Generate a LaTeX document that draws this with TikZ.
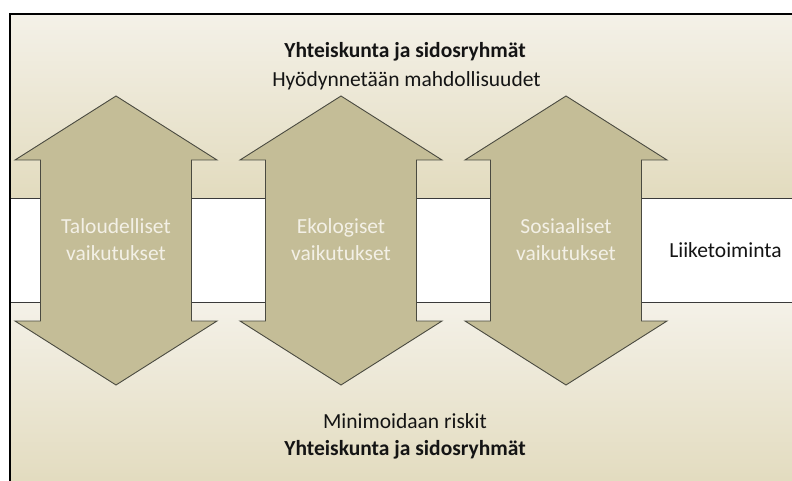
\documentclass[tikz,border=0pt]{standalone}
\usepackage{fontspec}
\setmainfont{Carlito}
\begin{document}
\begin{tikzpicture}[x=1pt,y=1pt,
  panel/.style={top color=panelTop,bottom color=panelBottom,draw=none},
  impact/.style={fill=arrowFill,draw=arrowEdge,line width=0.9pt,line join=miter},
  impactlabel/.style={text=labelText,font=\fontsize{21.5}{27.4}\selectfont,align=center,anchor=base},
  heading/.style={text=headText,font=\fontsize{21.5}{27}\selectfont\bfseries,anchor=base},
  subheading/.style={text=headText,font=\fontsize{21.5}{27}\selectfont,anchor=base}]
\definecolor{panelTop}{HTML}{F4F1E8}
\definecolor{panelBottom}{HTML}{E2DBBE}
\definecolor{arrowFill}{HTML}{C4BD97}
\definecolor{arrowEdge}{HTML}{4A4A40}
\definecolor{labelText}{HTML}{F3F0E6}
\definecolor{headText}{HTML}{141414}
\definecolor{bandEdge}{HTML}{3A3A3A}
\useasboundingbox (0,0) rectangle (792,480);
\begin{scope}
\clip (0,0) rectangle (792,480);
% background panels: society above and below, business band in between
\shade[panel] (10,281) rectangle (800,466);
\shade[panel] (10,-8) rectangle (800,178);
\fill[white] (10,178) rectangle (800,281);
\draw[bandEdge,line width=1pt] (10,281) -- (800,281);
\draw[bandEdge,line width=1pt] (10,178) -- (800,178);
% outer frame
\draw[black,line width=1.4pt] (10,-10) -- (10,466) -- (800,466);
% double-headed impact arrows
\foreach \cx in {116,341,566}{
  \draw[impact] (\cx,384) -- (\cx+101,320) -- (\cx+75.5,320) -- (\cx+75.5,159)
     -- (\cx+101,159) -- (\cx,95) -- (\cx-101,159) -- (\cx-75.5,159)
     -- (\cx-75.5,320) -- (\cx-101,320) -- cycle;
}
\end{scope}
% the base anchor of a two-line label sits on its second line
\node[impactlabel] (talous) at (116,219.3) {Taloudelliset\\vaikutukset};
\node[impactlabel] (ekologia) at (341,219.3) {Ekologiset\\vaikutukset};
\node[impactlabel] (sosiaali) at (566,219.3) {Sosiaaliset\\vaikutukset};
\node[subheading] (liike) at (725.5,222.7) {Liiketoiminta};
\node[heading] (ylaotsikko) at (405,422.3) {Yhteiskunta ja sidosryhmät};
\node[subheading] (mahdollisuudet) at (406.5,393.3) {Hyödynnetään mahdollisuudet};
\node[subheading] (riskit) at (405,51.7) {Minimoidaan riskit};
\node[heading] (alaotsikko) at (405,25) {Yhteiskunta ja sidosryhmät};
\end{tikzpicture}
\end{document}
